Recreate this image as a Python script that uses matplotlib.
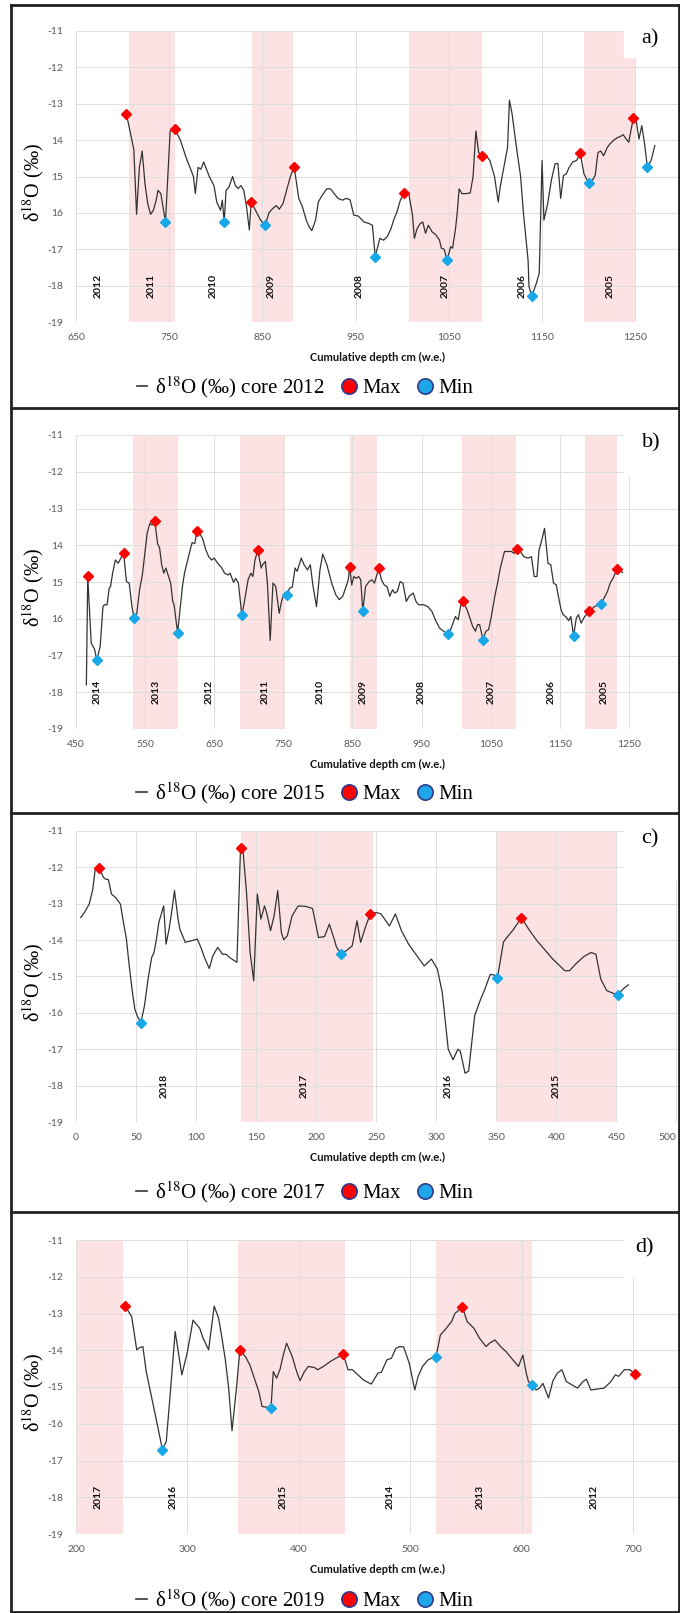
import matplotlib
matplotlib.use("Agg")
import matplotlib.pyplot as plt
from matplotlib.lines import Line2D
from matplotlib.patches import Rectangle
import numpy as np

plt.rcParams['font.family'] = ['Lato', 'DejaVu Sans']
plt.rcParams['mathtext.fontset'] = 'stix'
SERIF = ['Liberation Serif', 'DejaVu Serif']

# ---- data (depth cm w.e., d18O permil) ----
# core 2012
a_line = [(704,-13.27),(712,-14.25),(715,-16.04),(718,-14.75),(721,-14.3),(724,-15.2),(727,-15.75),(730,-16.04),(733,-15.93),(736,-15.65),(738,-15.38),(741,-15.47),(746,-16.25),(751,-13.75),(756,-13.7),(762,-14.0),(768,-14.47),(773,-14.8),(776,-15.0),(778,-15.47),(781,-14.75),(784,-14.8),(787,-14.6),(790,-14.8),(793,-15.0),(798,-15.25),(801,-15.7),(805,-15.93),(807,-15.65),(809,-16.25),(811,-15.38),(814,-15.3),(818,-15.0),(821,-15.25),(824,-15.33),(827,-15.25),(830,-15.38),(833,-15.84),(836,-16.47),(838,-15.7),(844,-16.0),(848,-16.2),(853,-16.34),(857,-16.0),(861,-15.88),(865,-15.8),(868,-15.9),(872,-15.75),(876,-15.38),(880,-15.0),(884,-14.73),(889,-15.6),(893,-15.84),(897,-16.2),(900,-16.38),(903,-16.49),(907,-16.2),(910,-15.7),(914,-15.52),(919,-15.34),(923,-15.34),(927,-15.47),(931,-15.6),(936,-15.65),(940,-15.6),(944,-15.64),(948,-16.06),(953,-16.09),(959,-16.25),(964,-16.29),(968,-16.34),(971,-17.2),(976,-16.7),(980,-16.75),(984,-16.65),(988,-16.43),(991,-16.18),(994,-16.0),(998,-15.65),(1002,-15.45),(1007,-15.47),(1011,-16.06),(1013,-16.7),(1016,-16.43),(1019,-16.3),(1022,-16.25),(1025,-16.56),(1028,-16.34),(1032,-16.52),(1036,-16.6),(1040,-16.75),(1042,-16.97),(1045,-17.0),(1048,-17.3),(1052,-16.93),(1054,-16.97),(1057,-16.47),(1059,-16.0),(1061,-15.34),(1064,-15.47),(1069,-15.47),(1073,-15.45),(1076,-15.0),(1079,-13.75),(1082,-14.34),(1086,-14.43),(1090,-14.43),(1094,-14.56),(1099,-15.0),(1103,-15.7),(1105,-15.3),(1109,-14.75),(1113,-14.2),(1115,-12.9),(1118,-13.3),(1122,-14.1),(1127,-15.0),(1130,-16.0),(1132,-16.52),(1135,-17.3),(1136,-18.02),(1139,-18.29),(1144,-17.93),(1147,-17.65),(1150,-14.56),(1152,-16.2),(1156,-15.75),(1160,-15.1),(1164,-14.65),(1167,-14.64),(1170,-15.6),(1173,-14.97),(1176,-14.93),(1179,-14.75),(1183,-14.6),(1187,-14.56),(1191,-14.36),(1195,-14.93),(1200,-15.17),(1204,-15.1),(1207,-14.97),(1210,-14.34),(1213,-14.3),(1216,-14.43),(1220,-14.2),(1223,-14.1),(1227,-14.0),(1231,-13.93),(1234,-13.9),(1237,-13.85),(1240,-13.96),(1243,-14.06),(1248,-13.38),(1251,-13.47),(1254,-13.97),(1257,-13.6),(1260,-14.1),(1263,-14.75),(1267,-14.56),(1271,-14.15)]
a_max = [(704,-13.27),(756,-13.7),(838,-15.7),(884,-14.73),(1002,-15.45),(1086,-14.43),(1191,-14.36),(1248,-13.38)]
a_min = [(746,-16.25),(809,-16.25),(853,-16.34),(971,-17.2),(1048,-17.3),(1139,-18.29),(1200,-15.17),(1263,-14.75)]
a_bands = [(707,756),(839,883),(1007,1086),(1195,1250)]
a_years = ['2012','2011','2010','2009','2008','2007','2006','2005']
a_year_x = [674,731,797,859,954,1046,1129,1223]
a_xticks = [650,750,850,950,1050,1150,1250]

# core 2015
b_line = [(465,-17.8),(467,-14.85),(472,-16.66),(477,-16.84),(480,-17.13),(485,-16.75),(489,-15.67),(491,-15.62),(495,-15.62),(498,-15.17),(500,-15.12),(503,-14.76),(507,-14.4),(511,-14.49),(516,-14.31),(519,-14.22),(523,-14.99),(527,-15.03),(531,-15.67),(534,-15.98),(538,-15.85),(542,-15.21),(546,-14.81),(549,-14.31),(553,-13.67),(557,-13.4),(560,-13.45),(564,-13.33),(568,-13.95),(571,-14.08),(574,-14.53),(577,-14.76),(580,-14.62),(584,-14.85),(587,-15.03),(590,-15.53),(592,-15.62),(597,-16.39),(601,-15.67),(604,-15.12),(607,-14.76),(610,-14.53),(614,-14.22),(618,-13.93),(622,-13.95),(625,-13.6),(630,-13.72),(633,-13.81),(638,-14.13),(642,-14.31),(646,-14.4),(650,-14.35),(655,-14.49),(661,-14.62),(665,-14.76),(670,-14.81),(673,-14.76),(678,-15.01),(681,-14.9),(685,-15.03),(690,-15.91),(695,-15.39),(699,-14.94),(703,-14.76),(706,-14.85),(709,-14.4),(713,-14.14),(718,-14.62),(720,-14.53),(724,-14.44),(727,-15.03),(731,-16.59),(735,-15.03),(739,-15.12),(744,-15.85),(748,-15.48),(752,-15.3),(755,-15.35),(759,-15.17),(763,-15.14),(767,-14.62),(770,-14.71),(776,-14.35),(780,-14.53),(785,-14.67),(789,-14.53),(793,-15.12),(798,-15.67),(803,-14.67),(807,-14.24),(813,-14.53),(820,-15.03),(826,-15.35),(831,-15.48),(836,-15.39),(840,-15.17),(844,-14.94),(846,-14.58),(849,-15.08),(852,-14.85),(855,-14.9),(859,-14.85),(862,-14.94),(865,-15.8),(869,-15.12),(874,-14.99),(878,-14.94),(882,-15.03),(888,-14.63),(892,-14.94),(896,-15.08),(900,-15.12),(904,-15.39),(908,-15.21),(911,-15.3),(915,-15.26),(919,-14.99),(923,-15.03),(928,-15.53),(932,-15.39),(938,-15.3),(942,-15.53),(946,-15.62),(953,-15.62),(959,-15.67),(965,-15.8),(970,-16.03),(976,-16.25),(982,-16.34),(988,-16.42),(993,-16.25),(999,-15.94),(1003,-16.03),(1007,-15.62),(1010,-15.53),(1016,-15.76),(1020,-15.98),(1024,-16.21),(1028,-16.34),(1031,-16.16),(1034,-16.16),(1039,-16.57),(1043,-16.34),(1047,-16.3),(1051,-15.94),(1056,-15.39),(1060,-15.03),(1064,-14.62),(1070,-14.17),(1074,-14.17),(1080,-14.17),(1084,-14.22),(1088,-14.11),(1093,-14.17),(1098,-14.31),(1104,-14.35),(1109,-14.31),(1113,-14.85),(1117,-14.85),(1120,-14.13),(1124,-13.86),(1128,-13.54),(1133,-14.49),(1137,-14.53),(1141,-15.03),(1145,-15.08),(1148,-15.39),(1152,-15.76),(1155,-15.89),(1159,-15.95),(1163,-16.05),(1166,-15.94),(1170,-16.46),(1174,-15.98),(1177,-15.89),(1181,-16.12),(1186,-15.94),(1193,-15.8),(1200,-15.67),(1210,-15.6),(1214,-15.44),(1219,-15.26),(1223,-15.03),(1227,-14.9),(1233,-14.65),(1241,-14.74)]
b_max = [(467,-14.85),(519,-14.22),(564,-13.33),(625,-13.6),(713,-14.14),(846,-14.58),(888,-14.63),(1010,-15.53),(1088,-14.11),(1193,-15.8),(1233,-14.65)]
b_min = [(480,-17.13),(534,-15.98),(597,-16.39),(690,-15.91),(755,-15.35),(865,-15.8),(988,-16.42),(1039,-16.57),(1170,-16.46),(1210,-15.6)]
b_bands = [(533,598),(688,752),(847,886),(1008,1087),(1187,1233)]
b_years = ['2014','2013','2012','2011','2010','2009','2008','2007','2006','2005']
b_year_x = [480,566,643,724,803,865,950,1051,1138,1214]
b_xticks = [450,550,650,750,850,950,1050,1150,1250]

# core 2017
c_line = [(4,-13.38),(7,-13.24),(11,-13.01),(14,-12.6),(16,-12.05),(19,-12.02),(23,-12.28),(24.5,-12.32),(27,-12.34),(29.5,-12.73),(33,-12.83),(37,-13.01),(39,-13.42),(42,-13.97),(44,-14.61),(47,-15.44),(49,-15.9),(51,-16.08),(54,-16.27),(57,-15.81),(60,-15.07),(63,-14.48),(65,-14.34),(67,-13.97),(69,-13.51),(73,-13.06),(75,-14.11),(77.5,-13.7),(80,-13.15),(82,-12.64),(85,-13.42),(86.5,-13.7),(91,-14.06),(96,-14.02),(101,-13.97),(104,-14.2),(107,-14.48),(111,-14.78),(114,-14.43),(118,-14.2),(122,-14.39),(125,-14.39),(128,-14.48),(134,-14.61),(137,-11.48),(139,-11.5),(142,-12.69),(145,-14.34),(148,-15.12),(151,-12.73),(154,-13.42),(157,-13.06),(159,-13.28),(162,-13.74),(165,-13.33),(168,-12.64),(171,-13.79),(173,-13.99),(176,-13.88),(180,-13.33),(185,-13.06),(191,-13.07),(197,-13.13),(202,-13.93),(207,-13.9),(211,-13.56),(215,-13.97),(217,-14.2),(221,-14.39),(225,-14.29),(230,-14.16),(234,-13.47),(237,-14.06),(241,-13.65),(245,-13.28),(250,-13.24),(254,-13.28),(261,-13.61),(266,-13.28),(271,-13.74),(277,-14.11),(283,-14.39),(290,-14.71),(296,-14.52),(301,-14.8),(305,-15.44),(310,-17.0),(314,-17.29),(318,-17.0),(320,-17.05),(324,-17.66),(327,-17.6),(332,-16.08),(337,-15.62),(340,-15.39),(345,-14.94),(348,-14.96),(351,-15.03),(356,-14.05),(360,-13.88),(364,-13.72),(371,-13.38),(377,-13.7),(384,-14.02),(390,-14.25),(397,-14.52),(403,-14.71),(407,-14.84),(411,-14.84),(416,-14.66),(423,-14.45),(429,-14.34),(433,-14.39),(437,-15.07),(442,-15.39),(451,-15.51),(456,-15.33),(460,-15.23)]
c_max = [(19,-12.02),(137,-11.48),(245,-13.28),(371,-13.38)]
c_min = [(54,-16.27),(221,-14.39),(351,-15.03),(451,-15.51)]
c_bands = [(137,247),(351,450)]
c_years = ['2018','2017','2016','2015']
c_year_x = [73,190,310,400]
c_xticks = [0,50,100,150,200,250,300,350,400,450,500]

# core 2019
d_line = [(244,-12.79),(250,-13.09),(254.5,-13.99),(257,-13.93),(260,-13.9),(263,-14.58),(268,-15.3),(273,-16.03),(277.6,-16.71),(281,-16.48),(284,-15.39),(289,-13.49),(295,-14.67),(300,-14.04),(305,-13.18),(311,-13.4),(314,-13.67),(319,-13.99),(324,-12.8),(328,-13.13),(331,-13.67),(334,-14.26),(337,-15.03),(340,-16.19),(344,-15.03),(347,-14.0),(352,-14.17),(356,-14.4),(360,-14.76),(364,-15.12),(367,-15.53),(371,-15.55),(375,-15.57),(377,-14.58),(380,-14.76),(383,-14.53),(386,-14.13),(389,-13.81),(394,-14.17),(398,-14.58),(401,-14.83),(405,-14.58),(408.5,-14.44),(414,-14.47),(417,-14.53),(423,-14.42),(428,-14.31),(433,-14.22),(440,-14.11),(444,-14.53),(448,-14.53),(453,-14.67),(458,-14.81),(465,-14.92),(471,-14.62),(474,-14.6),(479,-14.26),(483,-14.22),(487,-13.95),(490,-13.9),(494,-13.91),(499,-14.35),(504,-15.08),(507,-14.71),(511,-14.44),(516,-14.26),(519,-14.22),(523,-14.19),(527,-13.58),(531,-13.45),(537,-13.22),(540,-13.0),(544,-12.9),(546.6,-12.81),(551,-13.22),(554,-13.31),(557,-13.4),(562,-13.67),(568,-13.9),(571,-13.81),(576,-13.72),(581,-13.9),(586,-14.04),(592,-14.26),(597,-14.44),(601,-14.13),(604,-14.62),(606,-14.85),(609,-14.94),(613,-15.08),(616,-15.03),(619,-14.9),(624,-15.3),(628,-14.83),(632,-14.62),(636,-14.53),(640,-14.85),(646,-14.96),(650,-15.03),(655,-14.85),(658,-14.79),(662,-15.08),(667,-15.06),(674,-15.03),(680,-14.85),(684,-14.67),(687,-14.71),(692,-14.53),(697,-14.53),(699,-14.58)]
d_max = [(244,-12.79),(347,-14.0),(440,-14.11),(546.6,-12.81),(702,-14.64)]
d_min = [(277.6,-16.71),(375,-15.57),(523,-14.19),(609,-14.94)]
d_bands = [(200,242),(345,441),(523,609)]
d_years = ['2017','2016','2015','2014','2013','2012']
d_year_x = [220,287.5,386,481.5,563,665]
d_xticks = [200,300,400,500,600,700]

yticks = [-11,-12,-13,-14,-15,-16,-17,-18,-19]
ylabels_ab = ['-11','-12','-13','14','15','16','-17','-18','-19']
ylabels_cd = ['-11','-12','-13','-14','-15','-16','-17','-18','-19']

# ---- layout (pixels) ----
W, H = 680, 1613
fig = plt.figure(figsize=(W / 100, H / 100), dpi=100)

def fx(p):
    return p / W

def fy(p):
    return 1 - p / H

panels = [
    (a_line, a_max, a_min, a_bands, a_years, a_year_x, a_xticks, (650, 1298), ylabels_ab, '2012', 'a)', 31, 322, 57, 387, 650),
    (b_line, b_max, b_min, b_bands, b_years, b_year_x, b_xticks, (450, 1324), ylabels_ab, '2015', 'b)', 435, 729, 475, 793, 651),
    (c_line, c_max, c_min, c_bands, c_years, c_year_x, c_xticks, (0, 503), ylabels_cd, '2017', 'c)', 831, 1122, 880, 1192, 650),
    (d_line, d_max, d_min, d_bands, d_years, d_year_x, d_xticks, (200, 742), ylabels_cd, '2019', 'd)', 1240, 1534, 1277, 1600, 645),
]

LEFT = 76
for line, mx, mn, bands, years, year_x, xticks, xlim, ylabs, core, tag, top, bot, boxbot, legy, tagx in panels:
    ax = fig.add_axes([fx(LEFT), fy(bot), 1 - fx(LEFT), (bot - top) / H])
    ax.set_axisbelow(True)
    for s, e in bands:
        ax.axvspan(s, e, color='#fde2e4', lw=0, zorder=0.3)
    ax.grid(True, color='#dedede', lw=0.7)
    x, y = np.array(line).T
    ax.plot(x, y, color='#333333', lw=0.9, zorder=2)
    mxx, mxy = np.array(mx).T
    ax.plot(mxx, mxy, ls='', marker='D', ms=5, color='#ff0000', zorder=3)
    mnx, mny = np.array(mn).T
    ax.plot(mnx, mny, ls='', marker='D', ms=5, color='#18a8e8', zorder=3)
    for yr, xx in zip(years, year_x):
        ax.text(xx, -18, yr, rotation=90, ha='center', va='center',
                fontsize=7.5, fontweight='bold', color='#111111')
    ax.set_xlim(*xlim)
    ax.set_ylim(-19, -11)
    ax.set_xticks(xticks)
    ax.set_yticks(yticks)
    ax.set_yticklabels(ylabs)
    ax.tick_params(length=0, labelsize=7.5, labelcolor='#595959')
    ax.tick_params(axis='y', pad=9)
    ax.tick_params(axis='x', pad=8)
    for sp in ax.spines.values():
        sp.set_visible(False)
    # last x label sits at the right edge of the figure: keep it inside
    last = ax.get_xticklabels()[-1]
    if xticks[-1] / xlim[1] > 0.98:
        last.set_ha('right')

    fig.text(fx(378), fy(bot + 35), 'Cumulative depth cm (w.e.)', ha='center', va='center',
             fontsize=8, fontweight='bold', color='#111111')
    fig.text(fx(33), fy((top + bot) / 2 + 6), 'δ$^{18}$O (‰)', rotation=90, ha='center',
             va='center', fontsize=14.5, family=SERIF)

    # white box with panel tag
    fig.add_artist(Rectangle((fx(624), fy(boxbot)), 1 - fx(624), (boxbot - top + 3) / H,
                             transform=fig.transFigure, color='white', zorder=5))
    fig.text(fx(tagx), fy(top + 8), tag, ha='center', va='center', fontsize=16,
             family=SERIF, zorder=6)

    handles = [Line2D([], [], color='#333333', lw=1.2),
               Line2D([], [], ls='', marker='o', ms=11, mfc='#ff0000', mec='#2e3b8c', mew=1.2),
               Line2D([], [], ls='', marker='o', ms=11, mfc='#1ea7e8', mec='#2e3b8c', mew=1.2)]
    fig.legend(handles, ['δ$^{18}$O (‰) core ' + core, 'Max', 'Min'], loc='center',
               bbox_to_anchor=(fx(305), fy(legy)), ncol=3, frameon=False,
               prop={'family': SERIF, 'size': 15}, handlelength=0.5,
               handletextpad=0.4, columnspacing=0.9)

# panel frames
for yy in [5, 408, 813, 1212, 1612]:
    fig.add_artist(Line2D([fx(11), fx(679)], [fy(yy), fy(yy)], color='#222222', lw=2,
                          transform=fig.transFigure, zorder=7))
for xx in [11, 679]:
    fig.add_artist(Line2D([fx(xx), fx(xx)], [fy(5), fy(1612)], color='#222222', lw=2,
                          transform=fig.transFigure, zorder=7))

fig.savefig('out.png', dpi=100)
